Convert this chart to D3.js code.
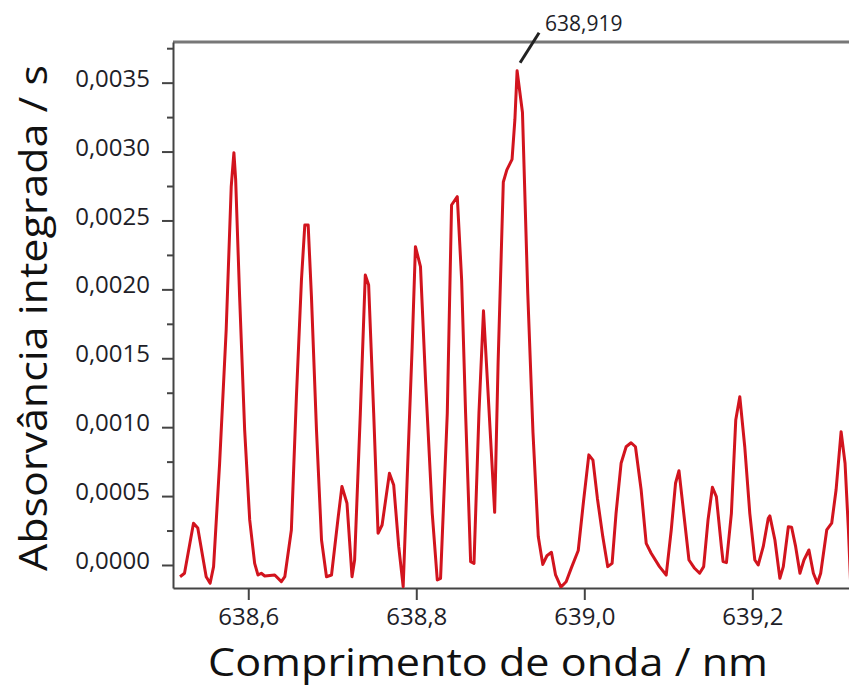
<!DOCTYPE html>
<html>
<head>
<meta charset="utf-8">
<script src="https://cdn.jsdelivr.net/npm/d3@7"></script>
<style>
  body { margin: 0; background: #fff; }
  #chart { width: 849px; height: 688px; }
  text { font-family: "Open Sans", "Noto Sans", sans-serif; }
</style>
</head>
<body>
<div id="chart"></div>
<script>
// spectrum
const wavelength = [
    638.5188, 638.5241, 638.5348, 638.5399, 638.5499, 638.5546, 638.5587, 638.5659, 638.5737, 638.5797,
    638.5829, 638.5850, 638.5897, 638.5957, 638.6017, 638.6076, 638.6116, 638.6155, 638.6196, 638.6315,
    638.6394, 638.6435, 638.6513, 638.6573, 638.6633, 638.6673, 638.6713, 638.6752, 638.6812, 638.6872,
    638.6931, 638.6991, 638.7071, 638.7115, 638.7175, 638.7235, 638.7266, 638.7334, 638.7393, 638.7433,
    638.7493, 638.7545, 638.7593, 638.7680, 638.7731, 638.7791, 638.7844, 638.7891, 638.7951, 638.7990,
    638.8050, 638.8110, 638.8190, 638.8250, 638.8289, 638.8369, 638.8420, 638.8488, 638.8540, 638.8587,
    638.8647, 638.8687, 638.8746, 638.8800, 638.8846, 638.8933, 638.8974, 638.9036, 638.9078, 638.9140,
    638.9174, 638.9200, 638.9264, 638.9327, 638.9389, 638.9452, 638.9506, 638.9555, 638.9609, 638.9658,
    638.9722, 638.9784, 638.9846, 638.9928, 638.9990, 639.0054, 639.0103, 639.0156, 639.0220, 639.0279,
    639.0331, 639.0378, 639.0438, 639.0498, 639.0557, 639.0609, 639.0677, 639.0737, 639.0796, 639.0895,
    639.0975, 639.1035, 639.1086, 639.1127, 639.1175, 639.1246, 639.1313, 639.1373, 639.1421, 639.1473,
    639.1525, 639.1572, 639.1632, 639.1652, 639.1692, 639.1751, 639.1803, 639.1851, 639.1910, 639.1970,
    639.2030, 639.2070, 639.2130, 639.2190, 639.2209, 639.2269, 639.2328, 639.2369, 639.2429, 639.2468,
    639.2516, 639.2567, 639.2615, 639.2674, 639.2727, 639.2775, 639.2814, 639.2886, 639.2945, 639.2997,
    639.3057, 639.3104, 639.3144, 639.3172
];

const absorbance = [
    -0.000085, -0.000060, 0.000303, 0.000268, -0.000085, -0.000133, -0.000012, 0.000738, 0.001705, 0.002745,
    0.002992, 0.002794, 0.001947, 0.000980, 0.000327, 0.000012, -0.000073, -0.000060, -0.000080, -0.000073,
    -0.000121, -0.000085, 0.000254, 0.001221, 0.002068, 0.002467, 0.002467, 0.001947, 0.000980, 0.000181,
    -0.000085, -0.000073, 0.000351, 0.000570, 0.000448, -0.000085, 0.000036, 0.001101, 0.002104, 0.002032,
    0.001101, 0.000230, 0.000290, 0.000665, 0.000581, 0.000133, -0.000157, 0.000617, 0.001584, 0.002310,
    0.002165, 0.001343, 0.000375, -0.000109, -0.000097, 0.001101, 0.002612, 0.002673, 0.002068, 0.001101,
    0.000024, 0.000012, 0.001101, 0.001845, 0.001343, 0.000382, 0.001467, 0.002779, 0.002867, 0.002943,
    0.003233, 0.003586, 0.003283, 0.001972, 0.000962, 0.000206, 0.000004, 0.000067, 0.000092, -0.000072,
    -0.000160, -0.000122, -0.000021, 0.000105, 0.000458, 0.000799, 0.000761, 0.000483, 0.000206, -0.000012,
    0.000012, 0.000375, 0.000738, 0.000858, 0.000887, 0.000858, 0.000544, 0.000157, 0.000085, -0.000012,
    -0.000073, 0.000254, 0.000593, 0.000684, 0.000423, 0.000036, -0.000024, -0.000060, -0.000012, 0.000327,
    0.000564, 0.000496, 0.000133, 0.000024, 0.000017, 0.000375, 0.001052, 0.001221, 0.000858, 0.000375,
    0.000036, 0.000000, 0.000133, 0.000339, 0.000356, 0.000181, -0.000097, -0.000012, 0.000278, 0.000274,
    0.000133, -0.000060, 0.000036, 0.000109, -0.000060, -0.000133, -0.000060, 0.000254, 0.000303, 0.000544,
    0.000967, 0.000738, 0.000254, -0.000157
];

const xTicks = [638.6, 638.8, 639.0, 639.2];
const yTicks = [0, 0.0005, 0.0010, 0.0015, 0.0020, 0.0025, 0.0030, 0.0035];
const yMinorTicks = [0.00025, 0.00075, 0.00125, 0.00175, 0.00225, 0.00275, 0.00325, 0.00375];
const xDomain = [638.5104, 639.3151];
const yDomain = [-0.000167, 0.003795];
const peakLabel = '638,919';
const xTitle = 'Comprimento de onda / nm';
const yTitle = 'Absorvância integrada / s';

const margin = { top: 42, right: 0, bottom: 100, left: 173 };
const totalW = 849, totalH = 688;
const width = totalW - margin.left - margin.right;
const height = totalH - margin.top - margin.bottom;

const comma = (f) => (d) => f(d).replace('.', ',');

const svg = d3.select('#chart')
    .append('svg')
    .attr('width', totalW)
    .attr('height', totalH);

svg.append('defs')
    .append('clipPath')
    .attr('id', 'plot-clip')
    .append('rect')
    .attr('width', width)
    .attr('height', height);

const chart = svg.append('g')
    .attr('transform', `translate(${margin.left},${margin.top})`);

const x = d3.scaleLinear().domain(xDomain).range([0, width]);
const y = d3.scaleLinear().domain(yDomain).range([height, 0]);

// top frame line
chart.append('line')
    .attr('x1', 0).attr('x2', width)
    .attr('y1', 0).attr('y2', 0)
    .attr('stroke', '#777')
    .attr('stroke-width', 3);

// y axis, minor ticks first then labelled ones
chart.append('g')
    .attr('class', 'y-minor')
    .call(d3.axisLeft(y).tickValues(yMinorTicks).tickSize(6).tickFormat(''))
    .call((g) => g.select('.domain').remove())
    .call((g) => g.selectAll('line').attr('stroke', '#444').attr('stroke-width', 2));

const yAxisG = chart.append('g')
    .attr('class', 'y-axis')
    .call(d3.axisLeft(y)
        .tickValues(yTicks)
        .tickSize(11)
        .tickSizeOuter(0)
        .tickPadding(12)
        .tickFormat(comma(d3.format('.4f'))));

yAxisG.selectAll('text')
    .attr('dy', '0.15em')
    .style('font-size', '24px')
    .attr('fill', '#1e1e28');

const xAxisG = chart.append('g')
    .attr('class', 'x-axis')
    .attr('transform', `translate(0,${height})`)
    .call(d3.axisBottom(x)
        .tickValues(xTicks)
        .tickSize(12)
        .tickSizeOuter(0)
        .tickPadding(8)
        .tickFormat(comma(d3.format('.1f'))));

xAxisG.selectAll('text')
    .style('font-size', '24px')
    .attr('fill', '#1e1e28');

chart.selectAll('.x-axis path, .x-axis line, .y-axis path, .y-axis line')
    .attr('stroke', '#444')
    .attr('stroke-width', 2);

// spectrum
const points = wavelength.map((w, i) => ({ w: w, a: absorbance[i] }));

const line = d3.line()
    .x((d) => x(d.w))
    .y((d) => y(d.a));

chart.append('g')
    .attr('clip-path', 'url(#plot-clip)')
    .append('path')
    .datum(points)
    .attr('fill', 'none')
    .attr('stroke', '#d2141e')
    .attr('stroke-width', 3)
    .attr('stroke-linejoin', 'round')
    .attr('d', line);

// peak annotation
const peak = points.reduce((m, d) => (d.a > m.a ? d : m), points[0]);
const px = x(peak.w), py = y(peak.a);

chart.append('line')
    .attr('x1', px + 3).attr('y1', py - 8)
    .attr('x2', px + 22).attr('y2', py - 38)
    .attr('stroke', '#222')
    .attr('stroke-width', 3);

chart.append('text')
    .attr('x', px + 28)
    .attr('y', py - 40)
    .style('font-size', '21px')
    .attr('fill', '#1e1e28')
    .text(peakLabel);

// axis titles
svg.append('text')
    .attr('x', 488)
    .attr('y', 676)
    .attr('text-anchor', 'middle')
    .attr('textLength', 560)
    .attr('lengthAdjust', 'spacingAndGlyphs')
    .style('font-size', '39px')
    .attr('fill', '#111')
    .text(xTitle);

svg.append('text')
    .attr('transform', 'translate(47,318) rotate(-90)')
    .attr('text-anchor', 'middle')
    .attr('textLength', 506)
    .attr('lengthAdjust', 'spacingAndGlyphs')
    .style('font-size', '39px')
    .attr('fill', '#111')
    .text(yTitle);
</script>
</body>
</html>
